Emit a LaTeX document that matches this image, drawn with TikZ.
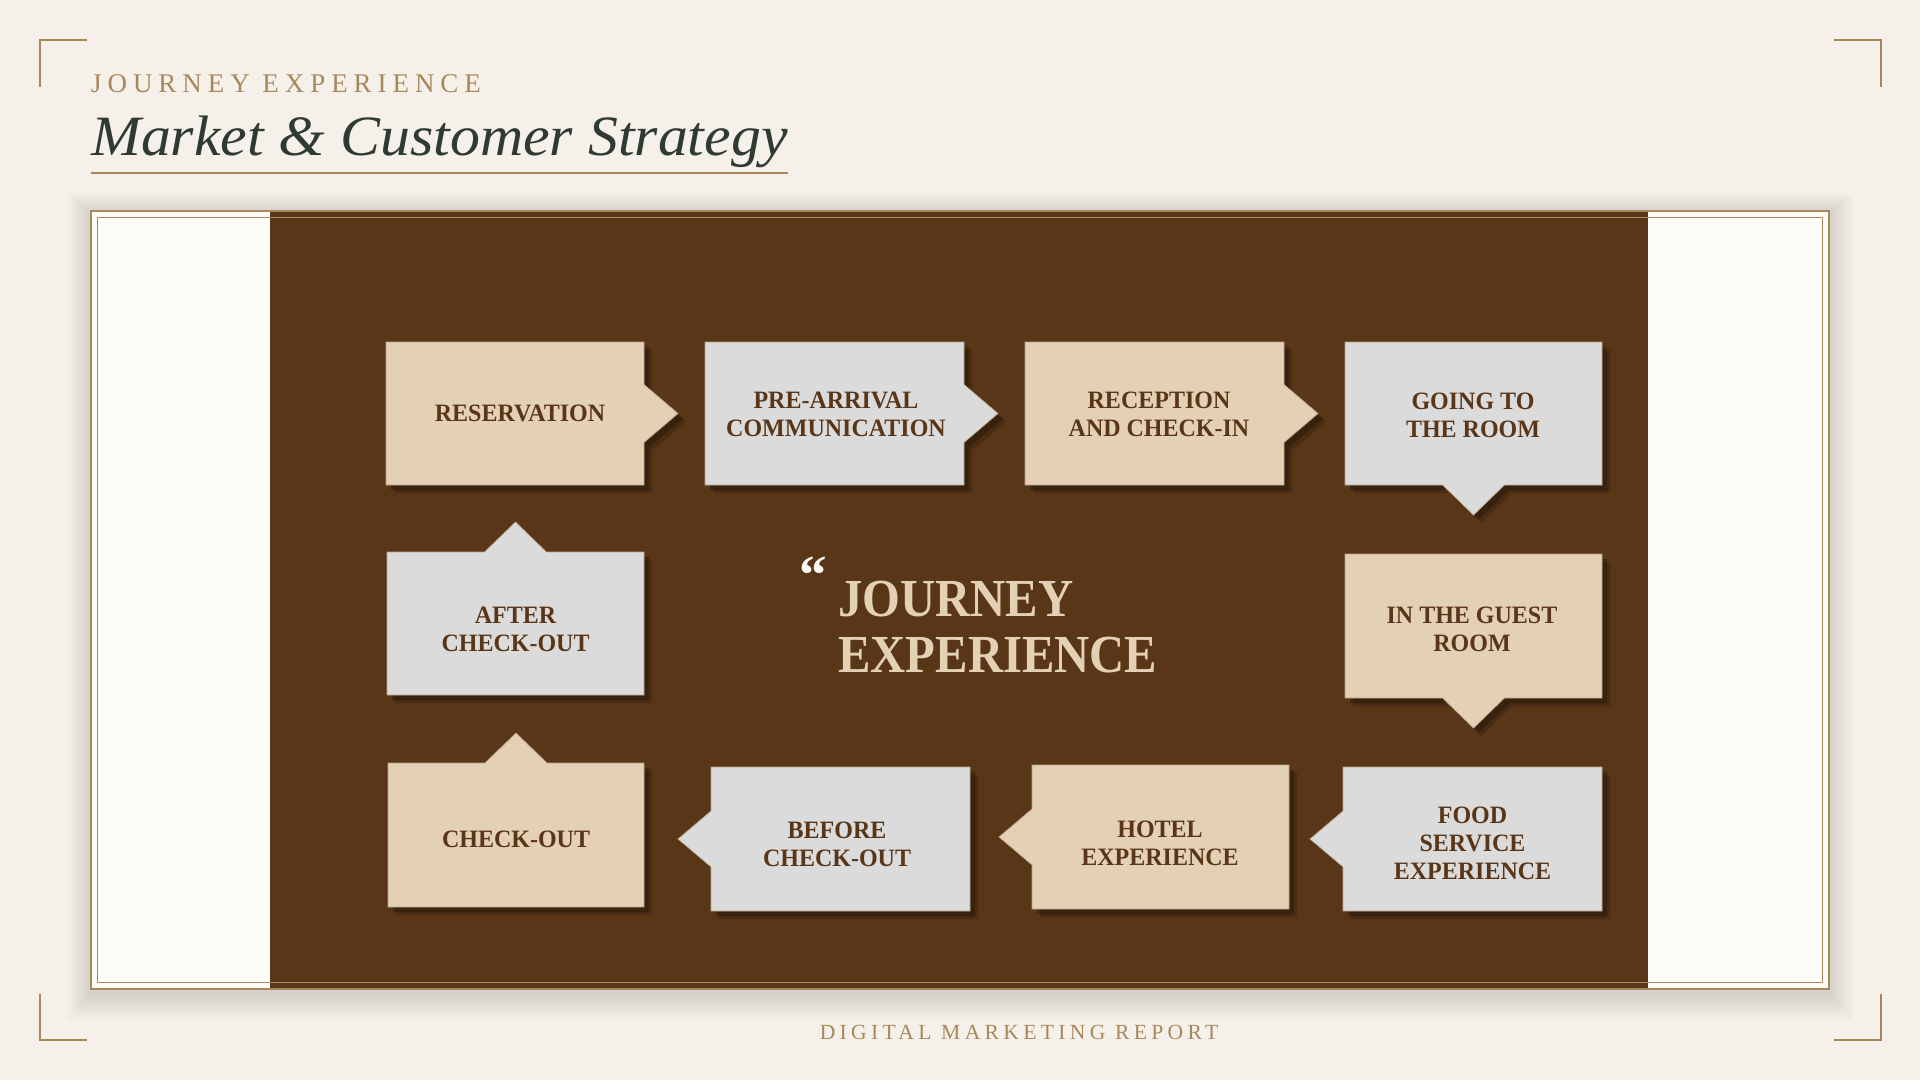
\documentclass[tikz,border=0pt]{standalone}
\usepackage{fontspec}
\setmainfont{Liberation Serif}
\newfontfamily\stepfont{Liberation Serif}[FakeStretch=0.96]
\newfontfamily\quotefont{Liberation Serif}[FakeStretch=0.91]
\newfontfamily\titlefont{Liberation Serif}[FakeStretch=1.05]
\newfontfamily\trackfont{Liberation Serif}[LetterSpace=22]
\newfontfamily\footfont{Liberation Serif}[LetterSpace=20]
\definecolor{PageBg}{HTML}{F5F1EA}
\definecolor{CardWhite}{HTML}{FEFCF7}
\definecolor{Gold}{HTML}{A8885A}
\definecolor{PanelBrown}{HTML}{5A3618}
\definecolor{StepBeige}{HTML}{E3D0B5}
\definecolor{StepGrey}{HTML}{DBDBDB}
\definecolor{StepEdge}{HTML}{B8A48A}
\definecolor{InkGreen}{HTML}{2F3B31}
\definecolor{ShadowDark}{HTML}{24160A}
\newcommand{\stepshape}[2]{%
  \fill[ShadowDark,opacity=0.30,shift={(8,8)}] #2;
  \fill[ShadowDark,opacity=0.45,shift={(5,5)}] #2;
  \path[fill=#1,draw=StepEdge,line width=0.7pt] #2;
}
% colour, left, top, right, bottom
\newcommand{\steprightbox}[5]{%
  \stepshape{#1}{(#2,#3) -- (#4,#3) -- (#4,{(#3+#5)/2-29})
    -- ({#4+34},{(#3+#5)/2}) -- (#4,{(#3+#5)/2+29}) -- (#4,#5) -- (#2,#5) -- cycle}}
\newcommand{\stepdownbox}[5]{%
  \stepshape{#1}{(#2,#3) -- (#4,#3) -- (#4,#5) -- ({(#2+#4)/2+31},#5)
    -- ({(#2+#4)/2},{#5+30}) -- ({(#2+#4)/2-31},#5) -- (#2,#5) -- cycle}}
\newcommand{\stepupbox}[5]{%
  \stepshape{#1}{(#2,#3) -- ({(#2+#4)/2-31},#3) -- ({(#2+#4)/2},{#3-30})
    -- ({(#2+#4)/2+31},#3) -- (#4,#3) -- (#4,#5) -- (#2,#5) -- cycle}}
\newcommand{\stepleftbox}[5]{%
  \stepshape{#1}{(#2,#3) -- (#4,#3) -- (#4,#5) -- (#2,#5) -- (#2,{(#3+#5)/2+28})
    -- ({#2-33},{(#3+#5)/2}) -- (#2,{(#3+#5)/2-28}) -- cycle}}

\begin{document}
\begin{tikzpicture}[x=1pt,y=-1pt,
    steplabel/.style={font=\stepfont\bfseries\fontsize{25}{28}\selectfont,
      text=PanelBrown,align=center,inner sep=0pt},
    corner/.style={draw=Gold,line width=2pt}]
  \fill[PageBg] (0,0) rectangle (1920,1080);
  \useasboundingbox (0,0) rectangle (1920,1080);
  % corner marks
  \draw[corner] (87,40) -- (40,40) -- (40,87);
  \draw[corner] (1834,40) -- (1881,40) -- (1881,87);
  \draw[corner] (40,994) -- (40,1040) -- (87,1040);
  \draw[corner] (1881,994) -- (1881,1040) -- (1834,1040);
  % heading
  \node[anchor=base west,inner sep=0pt,text=Gold,
        font=\trackfont\fontsize{27}{30}\selectfont] (kicker) at (91,92.7) {JOURNEY EXPERIENCE};
  \node[anchor=base west,inner sep=0pt,text=InkGreen,
        font=\titlefont\itshape\fontsize{57}{60}\selectfont] (title) at (91,155) {Market \& Customer Strategy};
  \draw[Gold,line width=2pt] (title.base west |- 0,172.5) -- (788,172.5);
  % card with soft shadow
  \foreach \g in {1,...,16}{
    \fill[black,opacity=0.009] ({91-1.5*\g},{214-1.3*\g}) rectangle ({1829+1.5*\g},{993+1.7*\g});}
  \fill[CardWhite] (91,211) rectangle (1829,989);
  \fill[PanelBrown] (270,211) rectangle (1648,989);
  \draw[Gold,line width=2.5pt] (91,211) rectangle (1829,989);
  \draw[Gold,line width=1pt] (97.5,217.5) rectangle (1822.5,982.5);
  % steps of the journey
  \steprightbox{StepBeige}{386}{342}{644}{485}
  \steprightbox{StepGrey}{705}{342}{964}{485}
  \steprightbox{StepBeige}{1025}{342}{1284}{485}
  \stepdownbox{StepGrey}{1345}{342}{1602}{485}
  \stepdownbox{StepBeige}{1345}{554}{1602}{698}
  \stepleftbox{StepGrey}{1343}{767}{1602}{911}
  \stepleftbox{StepBeige}{1032}{765}{1289}{909}
  \stepleftbox{StepGrey}{711}{767}{970}{911}
  \stepupbox{StepBeige}{388}{763}{644}{907}
  \stepupbox{StepGrey}{387}{552}{644}{695}
  \node[steplabel] (reservation) at (520,413.5) {RESERVATION};
  \node[steplabel] (prearrival) at (836,414) {PRE-ARRIVAL\\COMMUNICATION};
  \node[steplabel] (reception) at (1159,414) {RECEPTION\\AND CHECK-IN};
  \node[steplabel] (goingroom) at (1473,415) {GOING TO\\THE ROOM};
  \node[steplabel] (guestroom) at (1472,629) {IN THE GUEST\\ROOM};
  \node[steplabel] (foodservice) at (1472.5,843) {FOOD\\SERVICE\\EXPERIENCE};
  \node[steplabel] (hotelexp) at (1160,843) {HOTEL\\EXPERIENCE};
  \node[steplabel] (beforeout) at (837,844) {BEFORE\\CHECK-OUT};
  \node[steplabel] (checkout) at (516,839) {CHECK-OUT};
  \node[steplabel] (afterout) at (515.5,629) {AFTER\\CHECK-OUT};
  % centre quote
  \node[anchor=base west,inner sep=0pt,text=CardWhite,
        font=\bfseries\fontsize{55}{55}\selectfont] (quote) at (799,593) {“};
  \node[anchor=north west,inner sep=0pt,text=StepBeige,align=left,
        font=\quotefont\bfseries\fontsize{53.5}{55.6}\selectfont] (journey) at (838,581)
        {JOURNEY\\EXPERIENCE};
  % footer
  \node[anchor=base,inner sep=0pt,text=Gold,
        font=\footfont\fontsize{21.6}{24}\selectfont] (footer) at (1019,1039.3) {DIGITAL MARKETING REPORT};
\end{tikzpicture}
\end{document}
